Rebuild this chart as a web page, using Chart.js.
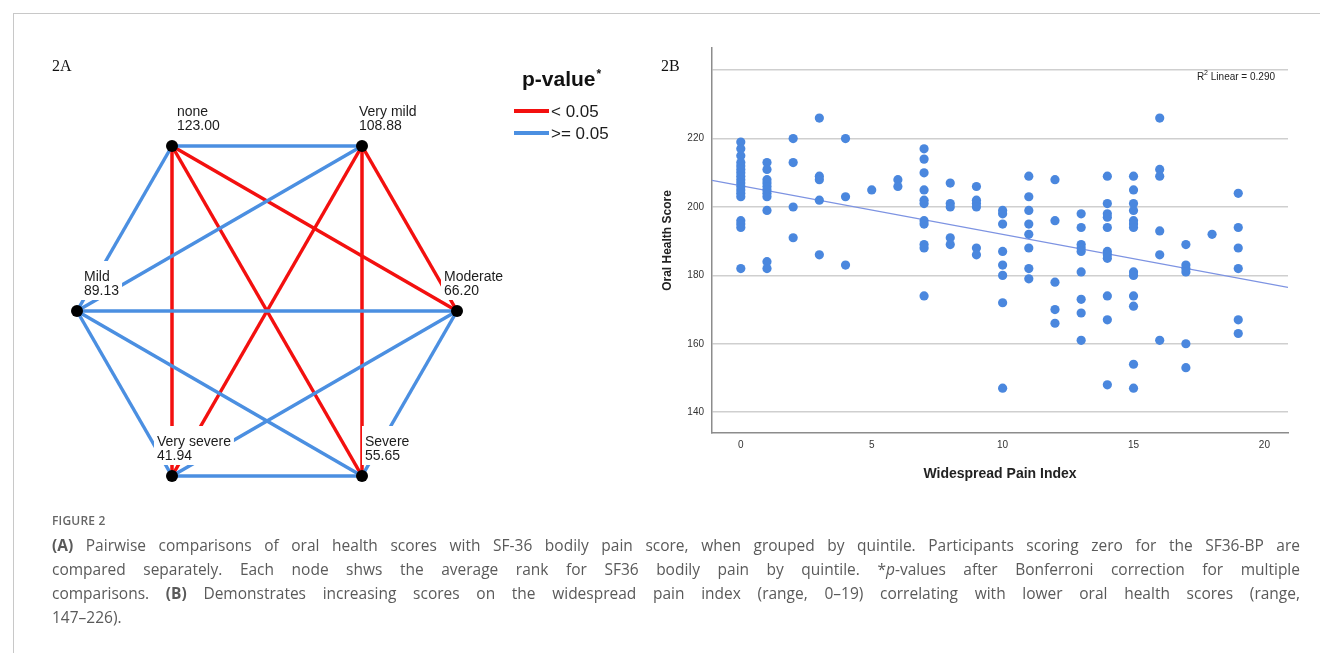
<!DOCTYPE html>
<html><head><meta charset="utf-8">
<script src="https://cdn.jsdelivr.net/npm/chart.js@4.4.0/dist/chart.umd.min.js"></script>
<style>
html,body{margin:0;padding:0;background:#fff;}
body{width:1320px;height:653px;position:relative;overflow:hidden;font-family:"Liberation Sans",Arial,sans-serif;}
#frame{position:absolute;left:13px;top:13px;width:1307px;height:640px;border-top:1px solid #c8c8c8;border-left:1px solid #c8c8c8;box-sizing:border-box;}
#cA{position:absolute;left:0;top:0;}
#cB{position:absolute;left:620px;top:0;}
#cap{position:absolute;left:52px;top:509px;width:1248px;color:#5a5a5a;font-family:"Open Sans","Liberation Sans",Arial,sans-serif;}
.fig{font-size:12px;font-weight:600;color:#666;height:24px;line-height:24px;letter-spacing:0.2px;}
.ln{font-size:15.5px;line-height:24px;height:24px;text-align:justify;text-align-last:justify;}
.last{text-align-last:left;}
</style></head>
<body>
<div id="frame"></div>
<canvas id="cA" width="660" height="520"></canvas>
<canvas id="cB" width="700" height="500"></canvas>
<div id="cap">
<div class="fig">FIGURE 2</div>
<div class="ln"><b>(A)</b> Pairwise comparisons of oral health scores with SF-36 bodily pain score, when grouped by quintile. Participants scoring zero for the SF36-BP are</div>
<div class="ln">compared separately. Each node shws the average rank for SF36 bodily pain by quintile. *<i>p</i>-values after Bonferroni correction for multiple</div>
<div class="ln">comparisons. <b>(B)</b> Demonstrates increasing scores on the widespread pain index (range, 0–19) correlating with lower oral health scores (range,</div>
<div class="ln last">147–226).</div>
</div>
<script>
// ---------- Panel 2A data ----------
const nodeNames = ['none','Very mild','Mild','Moderate','Very severe','Severe'];
const nodeRanks = ['123.00','108.88','89.13','66.20','41.94','55.65'];
const nodeCol = [1,3,0,4,1,3];
const nodeRow = [2,2,1,1,0,0];
const sigPairs = [[0,3],[0,4],[0,5],[1,3],[1,4],[1,5]];
const nsPairs = [[0,1],[0,2],[1,2],[2,3],[2,4],[2,5],[3,4],[3,5],[4,5]];
const legendTitle = 'p-value';
const legendLabels = ['< 0.05','>= 0.05'];

// ---------- Panel 2B data ----------
const wpiValues = [0,1,2,3,4,5,6,7,8,9,10,11,12,13,14,15,16,17,18,19];
const ohsByWpi = [
  [219,217,215,213,212,211,210,209,208,207,206,205,204,203,196,195,194,182],
  [213,211,208,207,206,205,204,203,199,184,182],
  [220,213,200,191],
  [226,209,208,202,186],
  [220,203,183],
  [205],
  [208,206],
  [217,214,210,205,202,201,196,195,189,188,174],
  [207,201,200,191,189],
  [206,202,201,200,188,186],
  [199,198,195,187,183,180,172,147],
  [209,203,199,195,192,188,182,179],
  [208,196,178,170,166],
  [198,194,189,188,187,181,173,169,161],
  [209,201,198,197,194,187,186,185,174,167,148],
  [209,205,201,199,196,195,194,181,180,174,171,154,147],
  [226,211,209,193,186,161],
  [189,183,182,181,160,153],
  [192],
  [204,194,188,182,167,163]
];
const fitX = [-1.1, 20.9];
const fitY = [207.8, 176.5];
const xTickValues = [0,5,10,15,20];
const yTickValues = [140,160,180,200,220,240];
const yTickLabels = ['140','160','180','200','220',''];
const r2Label = 'Linear = 0.290';

// ---------- Panel 2A chart ----------
const RED = '#f3100f', BLUE = '#4b8fe1';
const labelDx = [5,-3,7,-13,-15,3];
function edge(p, color){
  return {type:'scatter', showLine:true, borderColor:color, borderWidth:3.5, pointRadius:0,
    data:[{x:nodeCol[p[0]],y:nodeRow[p[0]]},{x:nodeCol[p[1]],y:nodeRow[p[1]]}], clip:false};
}
const netDatasets = [{type:'scatter', data:nodeCol.map((c,i)=>({x:c,y:nodeRow[i]})),
  pointRadius:6, pointBackgroundColor:'#000', pointBorderWidth:0, clip:false}];
nsPairs.forEach(p=>netDatasets.push(edge(p,BLUE)));
sigPairs.forEach(p=>netDatasets.push(edge(p,RED)));

const netPlugin = {
  id:'net',
  afterDatasetsDraw(chart){
    const {ctx, scales:{x,y}} = chart;
    ctx.save();
    ctx.font = '14px "Liberation Sans", Arial, sans-serif';
    ctx.textBaseline = 'middle'; ctx.textAlign = 'left';
    nodeNames.forEach((name,i)=>{
      const px = x.getPixelForValue(nodeCol[i]), py = y.getPixelForValue(nodeRow[i]);
      const lx = px + labelDx[i];
      const w = Math.max(ctx.measureText(name).width, ctx.measureText(nodeRanks[i]).width);
      ctx.fillStyle = '#fff';
      ctx.fillRect(lx-3, py-50, w+6, 39);
      ctx.fillStyle = '#1c1c1c';
      ctx.fillText(name, lx, py-34);
      ctx.fillText(nodeRanks[i], lx, py-20);
    });
    // panel label
    ctx.font = '16px "Liberation Serif", "Times New Roman", serif';
    ctx.fillStyle = '#111';
    ctx.textBaseline = 'alphabetic';
    ctx.fillText('2A', 52, 71);
    // legend
    ctx.font = 'bold 21px "Liberation Sans", Arial, sans-serif';
    ctx.fillText(legendTitle, 522, 86);
    const tw = ctx.measureText(legendTitle).width;
    ctx.font = 'bold 12px "Liberation Sans", Arial, sans-serif';
    ctx.fillText('*', 522+tw+1, 78);
    [RED,BLUE].forEach((c,k)=>{
      const ly = 111 + k*22;
      ctx.strokeStyle = c; ctx.lineWidth = 4;
      ctx.beginPath(); ctx.moveTo(514,ly); ctx.lineTo(549,ly); ctx.stroke();
      ctx.fillStyle = '#1c1c1c';
      ctx.font = '17px "Liberation Sans", Arial, sans-serif';
      ctx.textBaseline = 'middle';
      ctx.fillText(legendLabels[k], 551, ly+1.5);
    });
    ctx.restore();
  }
};

new Chart(document.getElementById('cA'), {
  type:'scatter',
  data:{datasets:netDatasets},
  options:{
    responsive:false, animation:false, events:[],
    layout:{padding:{left:29.5, right:155.5, top:113, bottom:11}},
    plugins:{legend:{display:false}, tooltip:{enabled:false}},
    scales:{
      x:{type:'linear', display:false, min:-0.5, max:4.5},
      y:{type:'linear', display:false, min:-0.2, max:2.2}
    }
  },
  plugins:[netPlugin]
});

// ---------- Panel 2B chart ----------
const scatterPts = [];
wpiValues.forEach((w,i)=>ohsByWpi[i].forEach(v=>scatterPts.push({x:w,y:v})));

const bPlugin = {
  id:'bdeco',
  afterDraw(chart){
    const {ctx, chartArea} = chart;
    ctx.save();
    ctx.font = '16px "Liberation Serif", "Times New Roman", serif';
    ctx.fillStyle = '#111';
    ctx.textBaseline = 'alphabetic'; ctx.textAlign = 'left';
    ctx.fillText('2B', 41, 71);
    // R2 annotation
    ctx.font = '10px "Liberation Sans", Arial, sans-serif';
    ctx.fillStyle = '#222';
    const right = chartArea.right - 13;
    const restW = ctx.measureText(' ' + r2Label).width;
    ctx.fillText(' ' + r2Label, right - restW, 80);
    ctx.font = '7px "Liberation Sans", Arial, sans-serif';
    const supW = ctx.measureText('2').width;
    ctx.fillText('2', right - restW - supW, 75);
    ctx.font = '10px "Liberation Sans", Arial, sans-serif';
    const rW = ctx.measureText('R').width;
    ctx.fillText('R', right - restW - supW - rW, 80);
    ctx.restore();
  }
};

new Chart(document.getElementById('cB'), {
  type:'scatter',
  data:{datasets:[
    {type:'scatter', data:scatterPts, pointRadius:4.6, pointBackgroundColor:'#4a87de', pointBorderWidth:0, order:1},
    {type:'line', data:[{x:fitX[0],y:fitY[0]},{x:fitX[1],y:fitY[1]}], borderColor:'#7d93e2', borderWidth:1.2,
      pointRadius:0, fill:false, order:2}
  ]},
  options:{
    responsive:false, animation:false, events:[],
    layout:{padding:{left:0, right:32, top:48, bottom:0}},
    plugins:{legend:{display:false}, tooltip:{enabled:false}},
    scales:{
      x:{type:'linear', min:fitX[0], max:fitX[1],
        afterBuildTicks(s){ s.ticks = xTickValues.map(v=>({value:v})); },
        afterFit(s){ s.height = 67; },
        grid:{display:false, drawTicks:false},
        border:{display:true, color:'#8c8c8c', width:1.5},
        ticks:{font:{size:10, family:'"Liberation Sans", Arial, sans-serif'}, color:'#333', padding:6, maxRotation:0,
          callback:(v)=>String(v)},
        title:{display:true, text:'Widespread Pain Index', color:'#222',
          font:{size:14, weight:'bold', family:'"Liberation Sans", Arial, sans-serif'}, padding:{top:0,bottom:17.6}}
      },
      y:{type:'linear', min:133.9, max:246.5,
        afterBuildTicks(s){ s.ticks = yTickValues.map(v=>({value:v})); },
        afterFit(s){ s.width = 92; },
        grid:{display:true, drawTicks:false, color:'#cfcfcf', lineWidth:1.5},
        border:{display:true, color:'#8c8c8c', width:1.5},
        ticks:{font:{size:10, family:'"Liberation Sans", Arial, sans-serif'}, color:'#333', padding:8,
          callback:(v)=>yTickLabels[yTickValues.indexOf(v)]},
        title:{display:true, text:'Oral Health Score', color:'#222',
          font:{size:12, weight:'bold', family:'"Liberation Sans", Arial, sans-serif'}, padding:{top:40.8,bottom:0}}
      }
    }
  },
  plugins:[bPlugin]
});
</script>
</body></html>
